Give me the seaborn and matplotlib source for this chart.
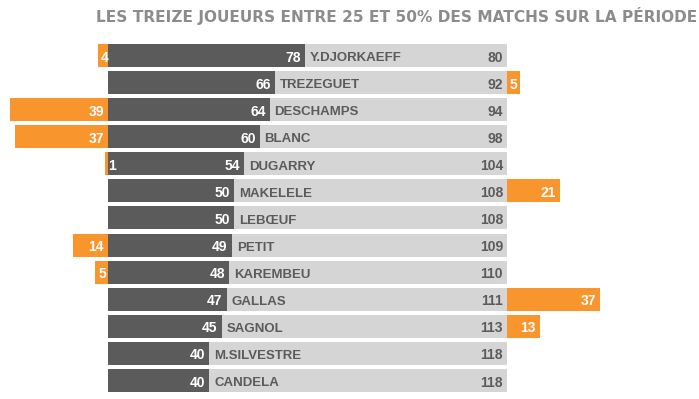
import matplotlib
matplotlib.use("Agg")
import matplotlib.pyplot as plt
import seaborn as sns

#%%
#  Data

names = ["Y.DJORKAEFF", "TREZEGUET", "DESCHAMPS", "BLANC", "DUGARRY", "MAKELELE",
         "LEBŒUF", "PETIT", "KAREMBEU", "GALLAS", "SAGNOL", "M.SILVESTRE", "CANDELA"]
played = [78, 66, 64, 60, 54, 50, 50, 49, 48, 47, 45, 40, 40]
missed = [80, 92, 94, 98, 104, 108, 108, 109, 110, 111, 113, 118, 118]
before = [4, 0, 39, 37, 1, 0, 0, 14, 5, 0, 0, 0, 0]
after = [0, 5, 0, 0, 0, 21, 0, 0, 0, 37, 13, 0, 0]
title = "LES TREIZE JOUEURS ENTRE 25 ET 50% DES MATCHS SUR LA PÉRIODE"

DARK = "#5b5b5b"
LIGHT = "#d5d5d5"
ORANGE = "#f9952d"

#%%
#  Plot

sns.set_style("white")
plt.rcParams["font.family"] = ["Liberation Sans", "DejaVu Sans"]
plt.rcParams["font.weight"] = "bold"

W, H = 699, 399
fig = plt.figure(figsize=(W / 100, H / 100), dpi=100)
ax = fig.add_axes([0, 0, 1, 1])

totals = [p + m for p, m in zip(played, missed)]
sns.barplot(x=totals, y=names, orient="h", color=LIGHT, width=0.85,
            saturation=1, linewidth=0, ax=ax)
sns.barplot(x=played, y=names, orient="h", color=DARK, width=0.85,
            saturation=1, linewidth=0, ax=ax)

px = 2.525  # pixels per unit
pad = 4 / px
dy = 0.225  # baseline shift below row centre
num = dict(fontsize=10, va="baseline", fontweight="bold")
for i, name in enumerate(names):
    tot = totals[i]
    y = i + dy
    ax.text(played[i] - pad, y, str(played[i]), color="white", ha="right", **num)
    ax.text(played[i] + 5 / px, i + 0.21, name, color=DARK, fontsize=9.5,
            ha="left", va="baseline", fontweight="bold")
    ax.text(tot - pad, y, str(missed[i]), color=DARK, ha="right", **num)
    if before[i]:
        ax.barh(i, -before[i], height=0.85, color=ORANGE, linewidth=0)
        if before[i] < 10:
            ax.text(-before[i] + 3 / px, y, str(before[i]), color="white",
                    ha="left", **num)
        else:
            ax.text(-pad, y, str(before[i]), color="white", ha="right", **num)
    if after[i]:
        ax.barh(i, after[i], left=tot, height=0.85, color=ORANGE, linewidth=0)
        if after[i] < 10:
            ax.text(tot + 3 / px, y, str(after[i]), color="white",
                    ha="left", **num)
        else:
            ax.text(tot + after[i] - pad, y, str(after[i]), color="white",
                    ha="right", **num)

# map data to pixel layout: x=0 at 108px, first row centre at 55.5px
ax.set_xlim(-108 / px, (W - 108) / px)
pitch = 27.08
ax.set_ylim((H - 55.5) / pitch, -55.5 / pitch)
ax.axis("off")

fig.text(697 / W, 1 - 22 / H, title, color="#8c8c8c", fontsize=11.1,
         ha="right", va="baseline", fontweight="bold", family="DejaVu Sans")

fig.savefig("out.png", dpi=100)
